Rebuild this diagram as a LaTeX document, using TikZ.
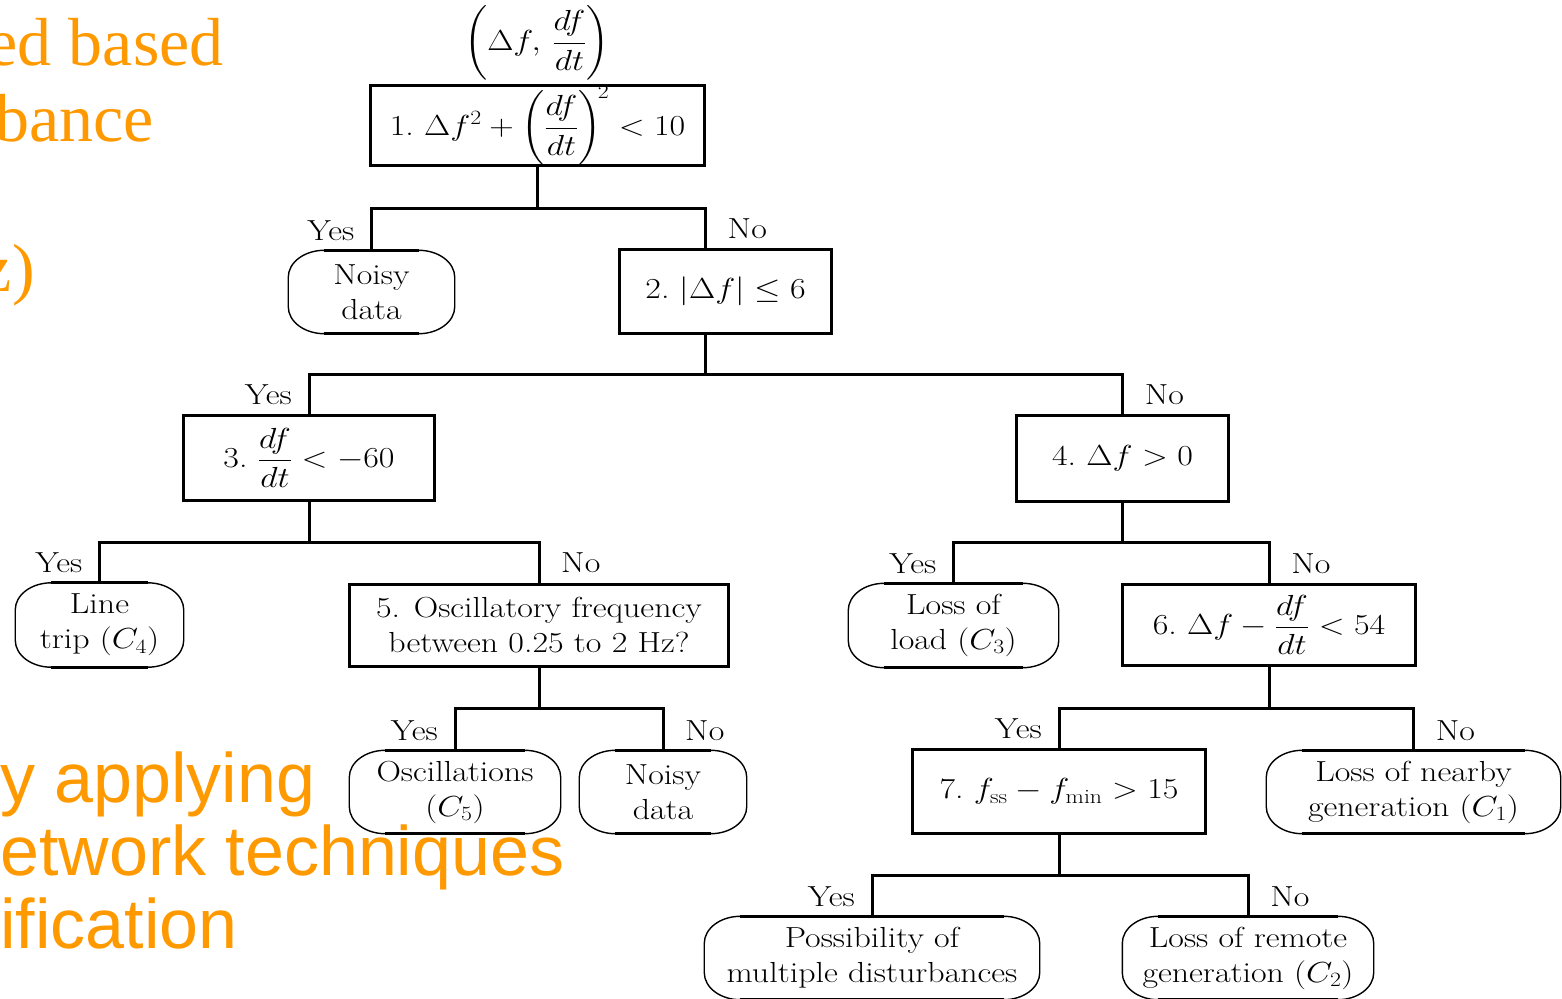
\RequirePackage{fix-cm}
\documentclass[tikz,border=0pt]{standalone}
\usepackage{amsmath}
\usepackage{fontspec}
\newfontfamily\orserif{Liberation Serif}[Ligatures=TeX]
\newfontfamily\orsans{Liberation Sans}[Ligatures=TeX]
\usetikzlibrary{calc}
\definecolor{orng}{RGB}{255,153,0}
\tikzset{
  every node/.style={font=\fontsize{29}{35}\selectfont},
  wide/.style={xscale=1.17},
  box/.style={wide, draw, line width=3pt, align=center, inner sep=0pt},
  term/.style={wide, align=center, inner sep=0pt},
  termline/.style={line width=1.4pt},
  conn/.style={line width=3pt},
  lbl/.style={wide, inner sep=0pt},
  orS/.style={inner sep=0pt, text=orng},
  orA/.style={inner sep=0pt, text=orng},
}
\newcommand\serifline[1]{{\orserif\fontsize{68}{76}\selectfont #1}}
\newcommand\sansline[1]{{\orsans\fontsize{70}{73}\selectfont #1}}
\newcommand\termframe[1]{%
  \draw[termline] ([xshift=36pt]#1.north west) -- ([xshift=-36pt]#1.north east)
    arc[start angle=90,end angle=0,x radius=36pt,y radius=27pt]
    -- ([yshift=27pt]#1.south east)
    arc[start angle=0,end angle=-90,x radius=36pt,y radius=27pt]
    -- ([xshift=36pt]#1.south west)
    arc[start angle=270,end angle=180,x radius=36pt,y radius=27pt]
    -- ([yshift=-27pt]#1.north west)
    arc[start angle=180,end angle=90,x radius=36pt,y radius=27pt] -- cycle;
  \draw[line width=3pt] ([xshift=36pt]#1.north west) -- ([xshift=-36pt]#1.north east);
  \draw[line width=3pt] ([xshift=36pt]#1.south west) -- ([xshift=-36pt]#1.south east);
}
\begin{document}
\begin{tikzpicture}[x=1pt,y=1pt]
\clip (0,0) rectangle (1562,-998);
\fill[white] (0,0) rectangle (1562,-998);

% top input label
\node[wide, inner sep=0pt] (in) at (537,-43) {$\left(\Delta f,\,\dfrac{df}{dt}\right)$};

% decision boxes
\node[box, minimum width=285.5pt, minimum height=80pt] (b1) at (537.5,-125.5)
  {1.~$\Delta f^2+\left(\dfrac{df}{dt}\right)^{\!2}<10$};
\node[box, minimum width=181.2pt, minimum height=84pt] (b2) at (725.5,-291.5)
  {2.~$|\Delta f|\leq 6$};
\node[box, minimum width=214.5pt, minimum height=85pt] (b3) at (309,-458)
  {3.~$\dfrac{df}{dt}<-60$};
\node[box, minimum width=181.2pt, minimum height=86pt] (b4) at (1122.5,-458.5)
  {4.~$\Delta f>0$};
\node[box, minimum width=323.9pt, minimum height=82pt] (b5) at (539,-625)
  {5. Oscillatory frequency\\between 0.25 to 2 Hz?};
\node[box, minimum width=250.4pt, minimum height=81pt] (b6) at (1269,-625)
  {6.~$\Delta f-\dfrac{df}{dt}<54$};
\node[box, minimum width=250.4pt, minimum height=84pt] (b7) at (1059,-791.5)
  {7.~$f_{\mathrm{ss}}-f_{\min}>15$};

% terminal nodes
\node[term, minimum width=141.9pt, minimum height=83pt] (n1) at (371.5,-292) {Noisy\\data};
\node[term, minimum width=143.6pt, minimum height=84pt] (lt) at (99.5,-625) {Line\\trip ($C_4$)};
\node[term, minimum width=179.5pt, minimum height=84pt] (ll) at (953.5,-625.5) {Loss of\\load ($C_3$)};
\node[term, minimum width=180.3pt, minimum height=83pt] (os) at (455,-792) {Oscillations\\($C_5$)};
\node[term, minimum width=142.7pt, minimum height=83pt] (n2) at (663,-792) {Noisy\\data};
\node[term, minimum width=251.3pt, minimum height=83pt] (ln) at (1413.5,-792) {Loss of nearby\\generation ($C_1$)};
\node[term, minimum width=286.3pt, minimum height=83pt] (ps) at (872,-958) {Possibility of\\multiple disturbances};
\node[term, minimum width=214.5pt, minimum height=83pt] (lr) at (1248,-958) {Loss of remote\\generation ($C_2$)};
\foreach \t in {n1,lt,ll,os,n2,ln,ps,lr}{\termframe{\t}}

% connectors
\coordinate (b2t) at ([xshift=-20pt]b2.north);
\coordinate (b2b) at ([xshift=-20pt]b2.south);
\path (b1.south) ++(0,-41) coordinate (j1);
\draw[conn] (b1.south) -- (j1);
\draw[conn] (n1.north) |- (j1) -| (b2t);
\node[lbl, anchor=base east] at ($(n1.north)+(-17,10)$) {Yes};
\node[lbl, anchor=base west] at ($(b2t)+(22,10)$) {No};

\path (b2b) ++(0,-39) coordinate (j2);
\draw[conn] (b2b) -- (j2);
\draw[conn] (b3.north) |- (j2) -| (b4.north);
\node[lbl, anchor=base east] at ($(b3.north)+(-17,10)$) {Yes};
\node[lbl, anchor=base west] at ($(b4.north)+(22,10)$) {No};

\path (b3.south) ++(0,-40) coordinate (j3);
\draw[conn] (b3.south) -- (j3);
\draw[conn] (lt.north) |- (j3) -| (b5.north);
\node[lbl, anchor=base east] at ($(lt.north)+(-17,10)$) {Yes};
\node[lbl, anchor=base west] at ($(b5.north)+(22,10)$) {No};

\path (b4.south) ++(0,-39) coordinate (j4);
\draw[conn] (b4.south) -- (j4);
\draw[conn] (ll.north) |- (j4) -| (b6.north);
\node[lbl, anchor=base east] at ($(ll.north)+(-17,10)$) {Yes};
\node[lbl, anchor=base west] at ($(b6.north)+(22,10)$) {No};

\path (b5.south) ++(0,-40.5) coordinate (j5);
\draw[conn] (b5.south) -- (j5);
\draw[conn] (os.north) |- (j5) -| (n2.north);
\node[lbl, anchor=base east] at ($(os.north)+(-17,10)$) {Yes};
\node[lbl, anchor=base west] at ($(n2.north)+(22,10)$) {No};

\path (b6.south) ++(0,-41) coordinate (j6);
\draw[conn] (b6.south) -- (j6);
\draw[conn] (b7.north) |- (j6) -| (ln.north);
\node[lbl, anchor=base east] at ($(b7.north)+(-17,10)$) {Yes};
\node[lbl, anchor=base west] at ($(ln.north)+(22,10)$) {No};

\path (b7.south) ++(0,-40) coordinate (j7);
\draw[conn] (b7.south) -- (j7);
\draw[conn] (ps.north) |- (j7) -| (lr.north);
\node[lbl, anchor=base east] at ($(ps.north)+(-17,10)$) {Yes};
\node[lbl, anchor=base west] at ($(lr.north)+(22,10)$) {No};

% overlapping slide text (orange)
\node[orS, anchor=base east] (o1) at (224,-65) {\serifline{ed based}};
\node[orS, anchor=base east] (o2) at (154,-141) {\serifline{bance}};
\node[orS, anchor=base east] (o3) at (35,-291) {\serifline{z)}};
\node[orA, anchor=base west] (o4) at (0,-802) {\sansline{y applying}};
\node[orA, anchor=base west] (o5) at (0,-875) {\sansline{etwork techniques}};
\node[orA, anchor=base west] (o6) at (0,-948) {\sansline{ification}};
\end{tikzpicture}
\end{document}
